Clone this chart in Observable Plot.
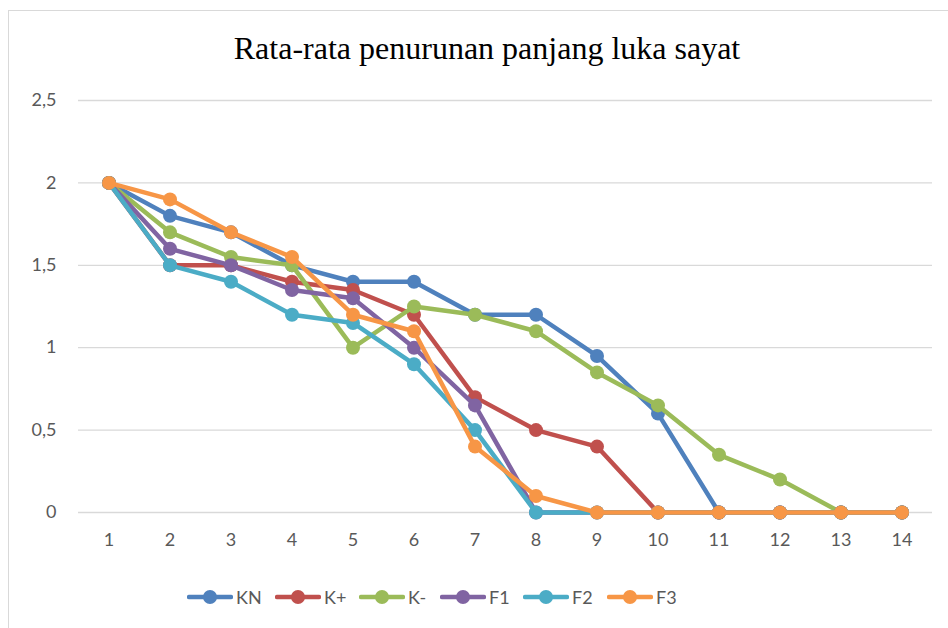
<!DOCTYPE html>
<html>
<head>
<meta charset="utf-8">
<script src="https://cdn.jsdelivr.net/npm/d3@7"></script>
<script src="https://cdn.jsdelivr.net/npm/@observablehq/plot@0.6"></script>
<style>
  html, body { margin: 0; padding: 0; background: #fff; }
  #wrap { position: relative; width: 948px; height: 628px; overflow: hidden; background: #fff; }
  #frame { position: absolute; left: 8px; top: 10px; width: 945px; height: 630px; border: 1px solid #d9d9d9; box-sizing: border-box; }
  #title { position: absolute; left: 0; top: 28px; width: 974px; text-align: center; font-family: "Liberation Serif", "DejaVu Serif", serif; font-size: 32px; color: #000; line-height: 40px; }
  #chart { position: absolute; left: 0; top: 0; }
  #legend { position: absolute; left: 187px; top: 586px; font-family: Lato, "Open Sans", sans-serif; font-size: 18px; color: #595959; }
  .item { display: flex; align-items: center; }
  .item svg { display: block; margin-right: 3px; }
</style>
</head>
<body>
<div id="wrap">
  <div id="frame"></div>
  <div id="title">Rata-rata penurunan panjang luka sayat</div>
  <div id="chart"></div>
  <div id="legend"></div>
</div>
<script>
const days = [1, 2, 3, 4, 5, 6, 7, 8, 9, 10, 11, 12, 13, 14];
const seriesNames = ["KN", "K+", "K-", "F1", "F2", "F3"];
const seriesColors = ["#4F81BD", "#C0504D", "#9BBB59", "#8064A2", "#4BACC6", "#F79646"];
const KN = [2, 1.8, 1.7, 1.5, 1.4, 1.4, 1.2, 1.2, 0.95, 0.6, 0, 0, 0, 0];
const Kplus = [2, 1.5, 1.5, 1.4, 1.35, 1.2, 0.7, 0.5, 0.4, 0, 0, 0, 0, 0];
const Kminus = [2, 1.7, 1.55, 1.5, 1.0, 1.25, 1.2, 1.1, 0.85, 0.65, 0.35, 0.2, 0, 0];
const F1 = [2, 1.6, 1.5, 1.35, 1.3, 1.0, 0.65, 0, 0, 0, 0, 0, 0, 0];
const F2 = [2, 1.5, 1.4, 1.2, 1.15, 0.9, 0.5, 0, 0, 0, 0, 0, 0, 0];
const F3 = [2, 1.9, 1.7, 1.55, 1.2, 1.1, 0.4, 0.1, 0, 0, 0, 0, 0, 0];
const yTicks = [0, 0.5, 1, 1.5, 2, 2.5];

const allValues = [KN, Kplus, Kminus, F1, F2, F3];
const data = [];
seriesNames.forEach((name, i) => {
  days.forEach((d, j) => data.push({ series: name, day: d, value: allValues[i][j] }));
});

const fmt = d => String(d).replace(".", ",");

const marks = [
  Plot.gridY(yTicks, { stroke: "#d9d9d9", strokeOpacity: 1, strokeWidth: 1.3 }),
  Plot.axisY(yTicks, { tickSize: 0, tickPadding: 22, tickFormat: fmt, fontSize: 18, label: null }),
  Plot.axisX(days, { tickSize: 0, tickPadding: 21, tickFormat: d => String(d), fontSize: 18, label: null })
];
seriesNames.forEach((name, i) => {
  const sub = data.filter(d => d.series === name);
  marks.push(Plot.line(sub, { x: "day", y: "value", stroke: seriesColors[i], strokeWidth: 4.5, strokeLinejoin: "round", strokeLinecap: "round" }));
  marks.push(Plot.dot(sub, { x: "day", y: "value", fill: seriesColors[i], r: 7, stroke: "none" }));
});

const chart = Plot.plot({
  width: 948,
  height: 628,
  marginTop: 100,
  marginBottom: 116,
  marginLeft: 78,
  marginRight: 16,
  x: { domain: [0.5, 14.5], axis: null, label: null },
  y: { domain: [0, 2.5], axis: null, label: null },
  style: { background: "transparent", fontFamily: "Lato, 'Open Sans', sans-serif", fontSize: "18px", color: "#595959", overflow: "visible" },
  marks
});
document.getElementById("chart").appendChild(chart);

const legend = document.getElementById("legend");
const itemStarts = [187, 275, 359, 440, 523, 607];
seriesNames.forEach((name, i) => {
  const item = document.createElement("div");
  item.className = "item";
  item.style.position = "absolute";
  item.style.left = (itemStarts[i] - 187) + "px";
  item.style.top = "0px";
  item.innerHTML = `<svg width="46" height="22"><line x1="2" y1="11" x2="44" y2="11" stroke="${seriesColors[i]}" stroke-width="4.5" stroke-linecap="round"/><circle cx="23" cy="11" r="7" fill="${seriesColors[i]}"/></svg><span style="line-height:22px;white-space:nowrap">${name}</span>`;
  legend.appendChild(item);
});
</script>
</body>
</html>
